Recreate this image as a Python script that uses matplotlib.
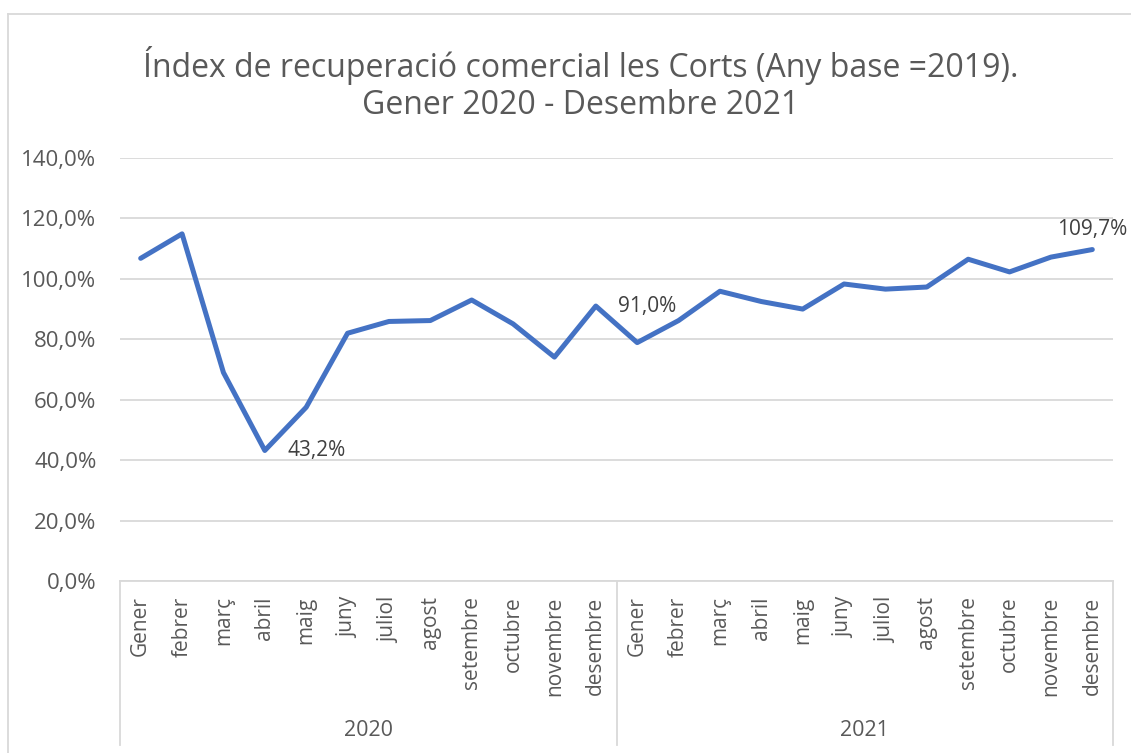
import matplotlib.pyplot as plt
from matplotlib.lines import Line2D
from matplotlib.ticker import FuncFormatter
import matplotlib.transforms as mtransforms

months = ["Gener", "febrer", "març", "abril", "maig", "juny", "juliol",
          "agost", "setembre", "octubre", "novembre", "desembre"]
years = ["2020", "2021"]
index_values = [106.8, 114.9, 69.0, 43.2, 57.5, 82.0, 85.9, 86.2, 93.0, 85.1, 74.1, 91.0,
                78.9, 86.2, 95.9, 92.5, 90.0, 98.3, 96.6, 97.3, 106.5, 102.3, 107.2, 109.7]
labelled = {3: "43,2%", 11: "91,0%", 23: "109,7%"}
title = "Índex de recuperació comercial les Corts (Any base =2019).\nGener 2020 - Desembre 2021"

W, H = 1131, 753
plt.rcParams["font.family"] = ["Open Sans", "DejaVu Sans"]
fig = plt.figure(figsize=(W / 100, H / 100), dpi=100)
ax = fig.add_axes([120 / W, 1 - 581 / H, (1113 - 120) / W, (581 - 158) / H])

grey = "#595959"
grid_c = "#D9D9D9"
x = list(range(len(index_values)))
ax.plot(x, index_values, color="#4472C4", lw=3.6, solid_joinstyle="round", solid_capstyle="round", zorder=3)

ax.set_xlim(-0.5, len(x) - 0.5)
ax.set_ylim(0, 140)
ax.set_yticks(range(0, 141, 20))
ax.yaxis.set_major_formatter(FuncFormatter(lambda v, p: f"{v:.1f}%".replace(".", ",")))
ax.grid(axis="y", color=grid_c, lw=1.3)
ax.set_axisbelow(True)
for s in ["top", "right", "left"]:
    ax.spines[s].set_visible(False)
ax.spines["bottom"].set_color(grid_c)
ax.spines["bottom"].set_linewidth(1.3)
ax.tick_params(axis="y", length=0, pad=17, labelsize=16, labelcolor=grey)
ax.tick_params(axis="x", length=0, pad=11, labelsize=15, labelcolor=grey)
ax.set_xticks(x)
ax.set_xticklabels(months * len(years), rotation=90, va="top")

# data labels
for i, txt in labelled.items():
    if i == len(x) - 1:
        ax.annotate(txt, (i, index_values[i]), xytext=(0, 7), textcoords="offset points",
                    ha="center", va="bottom", fontsize=15, color="#404040")
    else:
        ax.annotate(txt, (i, index_values[i]), xytext=(16, 0), textcoords="offset points",
                    ha="left", va="center", fontsize=15, color="#404040")

# year separators and labels
trans = mtransforms.blended_transform_factory(ax.transData, ax.transAxes)
bottom = -(745 - 581) / (581 - 158)
for b in [-0.5, 11.5, 23.5]:
    ax.add_line(Line2D([b, b], [0, bottom], transform=trans, color=grid_c, lw=1.3, clip_on=False))
for k, yr in enumerate(years):
    ax.text(k * 12 + 5.5, -(730 - 581) / (581 - 158), yr, transform=trans,
            ha="center", va="center", fontsize=15.5, color=grey)

fig.text(581 / W, 1 - 84 / H, title, ha="center", va="center", fontsize=23,
         color=grey, linespacing=1.15)

# chart area border
fig.add_artist(Line2D([8 / W, 8 / W], [0, 1 - 14 / H], color=grid_c, lw=1.3))
fig.add_artist(Line2D([8 / W, 1], [1 - 14 / H, 1 - 14 / H], color=grid_c, lw=1.3))

fig.savefig("out.png", dpi=100)
